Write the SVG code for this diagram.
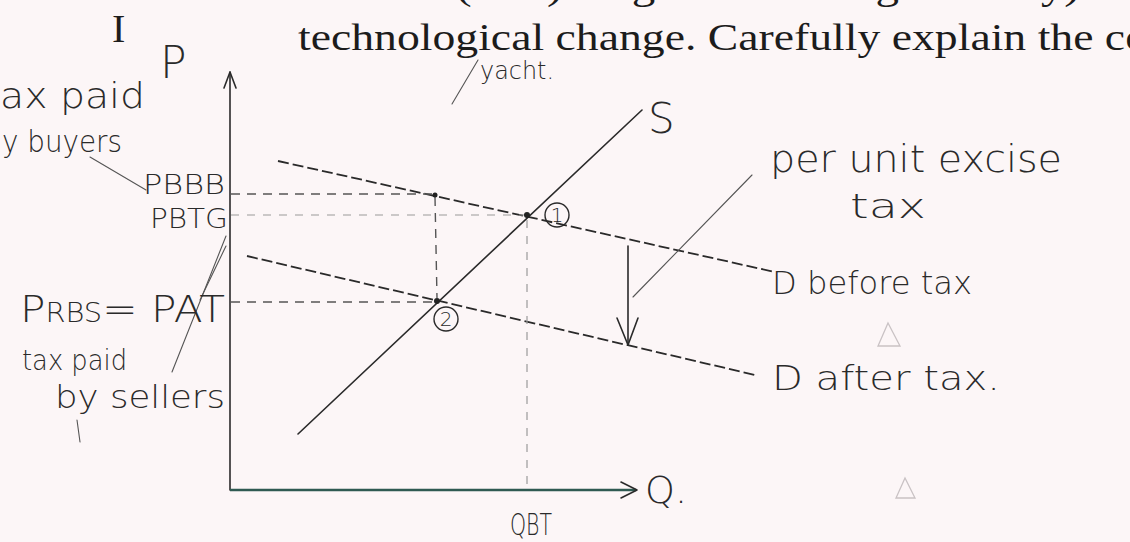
<svg xmlns="http://www.w3.org/2000/svg" width="1130" height="542" viewBox="0 0 1130 542">
<style>
.print{font-family:"Liberation Serif",serif;fill:#1c1c1c}
.hand{font-family:"DejaVu Sans",sans-serif;font-weight:200;fill:#2a2a2a}
.ln{stroke:#2a2a2a;stroke-width:1.6;fill:none;stroke-linecap:round;stroke-linejoin:round}
.thin{stroke:#555;stroke-width:1.1;fill:none;stroke-linecap:round}
.faint{stroke:#c9c2c4;stroke-width:1.3;fill:none}
.dcurve{stroke:#2a2a2a;stroke-width:1.8;fill:none;stroke-dasharray:11 4}
.dash{stroke:#555;stroke-width:1.4;fill:none;stroke-dasharray:9 7}
.ldash{stroke:#9a9a9a;stroke-width:1.2;fill:none;stroke-dasharray:8 8}
.pt{fill:#222}
</style>
<rect width="1130" height="542" fill="#fcf6f7"/>
<g id="header">
<text class="print" x="340" y="-1" font-size="38" textLength="740" lengthAdjust="spacingAndGlyphs">curve (S-D) diagram showing industry)</text>
<text class="print" x="298" y="50" font-size="38" textLength="850" lengthAdjust="spacingAndGlyphs">technological change.  Carefully explain the co</text>
</g>
<g id="axes">
<line class="ln" x1="230" y1="72" x2="230" y2="490"/>
<polyline class="ln" points="224,88 230,72 236,88"/>
<line x1="230" y1="490" x2="636" y2="490" stroke="#2f5a52" stroke-width="2.4"/>
<polyline class="ln" points="621,482 637,490 621,498"/>
</g>
<g id="supply">
<line class="ln" x1="298" y1="434" x2="642" y2="110"/>
</g>
<g id="demand-before">
<line class="dcurve" x1="278" y1="161" x2="775" y2="272"/>
</g>
<g id="demand-after">
<line class="dcurve" x1="247" y1="256" x2="755" y2="375"/>
</g>
<g id="connectors">
<line class="dash" x1="231" y1="194" x2="435" y2="194"/>
<line class="ldash" x1="231" y1="215" x2="527" y2="215"/>
<line class="dash" x1="231" y1="302" x2="437" y2="302"/>
<line class="dash" x1="435" y1="197" x2="437" y2="298"/>
<line class="ldash" x1="527" y1="220" x2="527" y2="490"/>
<line class="ln" x1="628" y1="246" x2="628" y2="345"/>
<polyline class="ln" points="617,318 628,345 638,318"/>
<line class="thin" x1="752" y1="175" x2="633" y2="297"/>
<line class="thin" x1="90" y1="157" x2="146" y2="190"/>
<line class="thin" x1="172" y1="372" x2="226" y2="236"/>
<line class="thin" x1="200" y1="300" x2="226" y2="246"/>
<line class="thin" x1="478" y1="60" x2="452" y2="104"/>
<line class="thin" x1="77" y1="420" x2="80" y2="442"/>
</g>
<g id="eq1">
<circle class="pt" cx="527" cy="215" r="3"/>
<circle cx="557" cy="215" r="12" fill="none" stroke="#2a2a2a" stroke-width="1.4"/>
<text class="hand" x="557" y="222" font-size="20" text-anchor="middle">1</text>
</g>
<g id="eq2">
<circle class="pt" cx="437" cy="301" r="3"/>
<circle class="pt" cx="435" cy="195" r="2.5"/>
<circle cx="446" cy="319" r="12" fill="none" stroke="#2a2a2a" stroke-width="1.4"/>
<text class="hand" x="446" y="326" font-size="20" text-anchor="middle">2</text>
</g>
<g id="labels">
<text class="print" x="112" y="42" font-size="40">I</text>
<text class="hand" x="160" y="78" font-size="44">P</text>
<text class="hand" x="480" y="79" font-size="24" textLength="74" lengthAdjust="spacingAndGlyphs">yacht.</text>
<text class="hand" x="648" y="133" font-size="42">S</text>
<text class="hand" x="0" y="108" font-size="36" textLength="145" lengthAdjust="spacingAndGlyphs">ax paid</text>
<text class="hand" x="2" y="152" font-size="30" textLength="120" lengthAdjust="spacingAndGlyphs">y buyers</text>
<text class="hand" x="143" y="194" font-size="27" textLength="82" lengthAdjust="spacingAndGlyphs">PBBB</text>
<text class="hand" x="150" y="228" font-size="27" textLength="78" lengthAdjust="spacingAndGlyphs">PBTG</text>
<text class="hand" x="20" y="322" font-size="38" textLength="205" lengthAdjust="spacingAndGlyphs">P<tspan font-size="26">RBS</tspan>= PAT</text>
<text class="hand" x="22" y="370" font-size="28" textLength="105" lengthAdjust="spacingAndGlyphs">tax paid</text>
<text class="hand" x="55" y="408" font-size="32" textLength="170" lengthAdjust="spacingAndGlyphs">by sellers</text>
<text class="hand" x="770" y="172" font-size="37" textLength="292" lengthAdjust="spacingAndGlyphs">per unit excise</text>
<text class="hand" x="850" y="218" font-size="34" textLength="76" lengthAdjust="spacingAndGlyphs">tax</text>
<text class="hand" x="772" y="294" font-size="32" textLength="200" lengthAdjust="spacingAndGlyphs">D before tax</text>
<text class="hand" x="772" y="390" font-size="34" textLength="228" lengthAdjust="spacingAndGlyphs">D after tax.</text>
<text class="hand" x="645" y="503" font-size="38">Q.</text>
<text class="hand" x="510" y="535" font-size="30" textLength="42" lengthAdjust="spacingAndGlyphs">QBT</text>
</g>
<g id="marks">
<polygon class="faint" points="888,323 878,346 900,346"/>
<polygon class="faint" points="905,478 896,498 915,498"/>
</g>
</svg>
